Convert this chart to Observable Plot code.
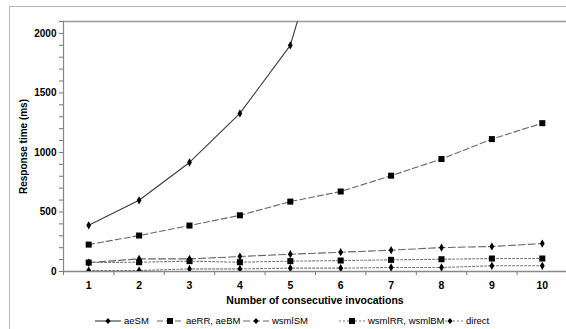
<!DOCTYPE html>
<html><head><meta charset="utf-8">
<script src="https://cdn.jsdelivr.net/npm/d3@7"></script>
<script src="https://cdn.jsdelivr.net/npm/@observablehq/plot@0.6"></script>
<style>
html,body{margin:0;padding:0;background:#fff;overflow:hidden;}
#wrap{position:relative;width:566px;height:329px;font-family:"Liberation Sans",Arial,sans-serif;}
#border{position:absolute;left:9px;top:6px;width:600px;height:400px;border-left:1px solid #b5b5b5;border-top:1px solid #b5b5b5;pointer-events:none;}
#legend{position:absolute;left:0;top:312px;width:566px;height:17px;font-size:9.5px;color:#000;}
.item{position:absolute;top:0;height:17px;display:flex;align-items:center;white-space:nowrap;}
.item svg{margin-right:3px;}
</style></head>
<body><div id="wrap"><div id="chart"></div><div id="legend"></div><div id="border"></div></div>
<script>
const invocations = [1,2,3,4,5,6,7,8,9,10];
const aeSM   = [388, 598, 916, 1328, 1900, 3330];
const aeRR   = [226, 302, 386, 472, 587, 672, 805, 945, 1112, 1246];
const wsmlSM = [75, 106, 106, 126, 145, 162, 179, 201, 210, 235];
const wsmlRR = [75, 78, 87, 78, 87, 92, 98, 103, 109, 109];
const direct = [8, 8, 22, 22, 28, 28, 34, 34, 48, 48];
const seriesNames = ["aeSM", "aeRR, aeBM", "wsmlSM", "wsmlRR, wsmlBM", "direct"];
const seriesValues = [aeSM, aeRR, wsmlSM, wsmlRR, direct];
const yMajor = [0, 500, 1000, 1500, 2000];

const styles = {
  "aeSM": {dash: null, stroke: "#3a3a3a", symbol: "diamond", r: 2.5},
  "aeRR, aeBM": {dash: "6,3", stroke: "#666", symbol: "square", r: 3.4},
  "wsmlSM": {dash: "7,3", stroke: "#666", symbol: "diamond", r: 2.5},
  "wsmlRR, wsmlBM": {dash: "2,2", stroke: "#777", symbol: "square", r: 3.4},
  "direct": {dash: "2,2", stroke: "#777", symbol: "diamond", r: 2.5}
};

const rows = [];
seriesNames.forEach((name, si) => {
  seriesValues[si].forEach((v, i) => rows.push({series: name, x: invocations[i], y: v}));
});

const marks = [];
for (const name of seriesNames) {
  const st = styles[name];
  const d = rows.filter(r => r.series === name);
  marks.push(Plot.line(d, {x: "x", y: "y", stroke: st.stroke, strokeWidth: 1.1, strokeDasharray: st.dash, clip: true}));
  marks.push(Plot.dot(d, {x: "x", y: "y", symbol: st.symbol, r: st.r, fill: "#000", stroke: "none", clip: true}));
}

const yMinor = d3.range(0, 2101, 100);
const xTickPos = d3.range(0.5, 11, 1);

const chart = Plot.plot({
  width: 566, height: 312,
  marginLeft: 63, marginRight: 0, marginTop: 21, marginBottom: 41,
  style: {fontFamily: "Liberation Sans, Arial, sans-serif", fontSize: "10px", color: "#000", background: "transparent"},
  x: {domain: [0.5, 10.5], range: [63, 567]},
  y: {domain: [0, 2100]},
  marks: [
    Plot.axisY(yMinor, {tickSize: 4, tickFormat: () => "", stroke: "#777", label: null}),
    Plot.axisY(yMajor, {tickSize: 0, tickPadding: 7, fontSize: 10, tickFormat: d => String(d), label: "Response time (ms)", labelAnchor: "center", labelArrow: "none", labelOffset: 44, fontWeight: "bold"}),
    Plot.axisX(xTickPos, {tickSize: 4, tickFormat: () => "", stroke: "#777", label: null}),
    Plot.axisX(invocations, {tickSize: 0, tickPadding: 10, fontSize: 10.5, label: "Number of consecutive invocations", labelAnchor: "center", labelArrow: "none", labelOffset: 32, fontWeight: "bold"}),
    Plot.ruleY([2100], {stroke: "#999", strokeWidth: 1.6}),
    Plot.ruleX([0.5], {stroke: "#888", strokeWidth: 1.2}),
    Plot.ruleY([0], {stroke: "#888", strokeWidth: 1.4}),
    ...marks
  ]
});
document.getElementById("chart").appendChild(chart);

// Legend
const legend = document.getElementById("legend");
const legendX = [95, 157, 243, 339, 437];
seriesNames.forEach((name, i) => {
  const st = styles[name];
  const item = document.createElement("div");
  item.className = "item";
  item.style.left = legendX[i] + "px";
  const w = 26;
  const marker = st.symbol === "square"
    ? `<rect x="${w/2-3}" y="2" width="6" height="6" fill="#000"/>`
    : `<path d="M${w/2},2 L${w/2+2.6},5 L${w/2},8 L${w/2-2.6},5Z" fill="#000"/>`;
  item.innerHTML = `<svg width="${w}" height="10"><line x1="0" x2="${w}" y1="5" y2="5" stroke="${st.stroke}" stroke-width="1.1" ${st.dash ? `stroke-dasharray="${st.dash}"` : ""}/>${marker}</svg><span>${name}</span>`;
  legend.appendChild(item);
});
</script></body></html>
